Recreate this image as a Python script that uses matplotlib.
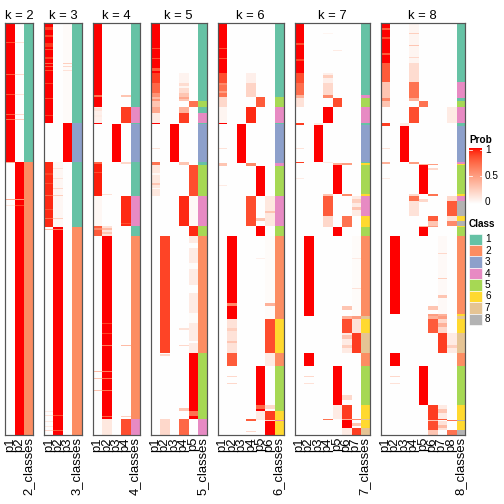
import numpy as np
import matplotlib
matplotlib.use("Agg")
import matplotlib.pyplot as plt
from matplotlib.patches import Rectangle

plt.rcParams['font.family'] = ['Liberation Sans', 'DejaVu Sans']

# ---------------- data ----------------
K_VALUES = [2, 3, 4, 5, 6, 7, 8]
CLASS_COLORS = ["#66C2A5", "#FC8D62", "#8DA0CB", "#E78AC3",
                "#A6D854", "#FFD92F", "#E5C494", "#B3B3B3"]
CLASS_LABELS = ["1", "2", "3", "4", "5", "6", "7", "8"]
PROB_TICKS = [0, 0.5, 1]
PROB_TICK_LABELS = ["0", "0.5", "1"]

# segments: (n_rows, class, membership of class, second class, its membership)
SEG_K2 = [(139, 1, 1.0, 2, 0.0), (273, 2, 1.0, 1, 0.0)]
SEG_K3 = [(100, 1, 1.0, 3, 0.02), (39, 3, 1.0, 1, 0.0), (65, 1, 0.95, 2, 0.04),
          (208, 2, 1.0, 1, 0.0)]
SEG_K4 = [(84, 1, 1.0, 4, 0.0), (16, 4, 0.9, 1, 0.08), (1, 1, 1.0, 4, 0.0),
          (38, 3, 1.0, 1, 0.0), (34, 1, 0.97, 4, 0.0), (30, 4, 0.95, 1, 0.04),
          (10, 1, 0.8, 2, 0.15), (183, 2, 1.0, 1, 0.0), (16, 4, 0.85, 2, 0.12)]
SEG_K5 = [(50, 1, 1.0, 4, 0.0), (10, 1, 0.9, 4, 0.06), (10, 1, 0.75, 4, 0.18),
          (8, 1, 0.55, 4, 0.3), (6, 5, 0.7, 1, 0.3), (6, 1, 0.45, 4, 0.4),
          (10, 4, 0.9, 1, 0.1), (1, 1, 1.0, 4, 0.0), (38, 3, 1.0, 1, 0.0),
          (3, 1, 0.7, 4, 0.3), (31, 5, 0.85, 1, 0.12), (30, 4, 0.95, 5, 0.03),
          (10, 5, 0.95, 4, 0.0), (117, 2, 0.88, 5, 0.1), (66, 5, 1.0, 2, 0.0),
          (16, 4, 0.75, 2, 0.2)]
SEG_K6 = [(50, 1, 1.0, 4, 0.0), (10, 1, 0.85, 4, 0.08), (14, 1, 0.7, 4, 0.22),
          (10, 5, 0.8, 1, 0.2), (16, 4, 0.95, 1, 0.05), (1, 1, 1.0, 4, 0.0),
          (39, 3, 1.0, 1, 0.0), (3, 4, 0.6, 1, 0.3), (30, 5, 1.0, 1, 0.0),
          (30, 4, 0.85, 6, 0.12), (10, 5, 1.0, 4, 0.0), (83, 2, 1.0, 6, 0.02),
          (34, 6, 0.85, 2, 0.15), (13, 2, 0.8, 6, 0.1), (45, 5, 1.0, 2, 0.0),
          (9, 6, 0.9, 5, 0.1), (1, 4, 0.8, 6, 0.2), (14, 6, 1.0, 5, 0.0)]
SEG_K7 = [(50, 1, 1.0, 4, 0.0), (10, 1, 0.85, 4, 0.08), (12, 1, 0.72, 4, 0.2),
          (3, 4, 0.6, 1, 0.4), (9, 5, 0.85, 1, 0.15), (16, 4, 1.0, 1, 0.0),
          (2, 1, 0.9, 3, 0.1), (37, 3, 1.0, 1, 0.0), (1, 1, 0.9, 4, 0.1),
          (2, 6, 0.5, 5, 0.4), (29, 5, 1.0, 1, 0.0), (2, 6, 0.6, 4, 0.3),
          (20, 4, 0.8, 7, 0.1), (11, 6, 0.7, 4, 0.2), (9, 5, 1.0, 4, 0.0),
          (80, 2, 1.0, 7, 0.02), (3, 7, 0.5, 6, 0.4), (14, 6, 0.85, 7, 0.15),
          (20, 7, 0.9, 6, 0.1), (13, 2, 1.0, 5, 0.0), (39, 5, 1.0, 2, 0.0),
          (14, 6, 0.9, 5, 0.1), (1, 7, 0.6, 6, 0.4), (8, 6, 1.0, 7, 0.0),
          (7, 7, 0.9, 6, 0.1)]
SEG_K8 = [(40, 1, 1.0, 4, 0.05), (19, 1, 0.8, 4, 0.18), (16, 4, 0.7, 1, 0.3),
          (3, 1, 0.6, 4, 0.4), (6, 5, 0.7, 1, 0.3), (16, 4, 0.85, 8, 0.1),
          (3, 1, 0.9, 3, 0.1), (36, 3, 1.0, 1, 0.0), (2, 4, 0.5, 1, 0.4),
          (1, 6, 0.5, 5, 0.4), (29, 5, 1.0, 1, 0.0), (2, 6, 0.7, 4, 0.2),
          (5, 4, 0.7, 8, 0.2), (15, 8, 0.8, 4, 0.15), (5, 6, 0.8, 8, 0.15),
          (5, 8, 0.6, 6, 0.3), (1, 6, 0.5, 5, 0.4), (9, 5, 1.0, 6, 0.0),
          (78, 2, 1.0, 7, 0.03), (2, 6, 0.5, 7, 0.4), (3, 7, 0.5, 6, 0.4),
          (14, 6, 0.8, 7, 0.2), (20, 7, 0.9, 8, 0.1), (13, 2, 1.0, 5, 0.0),
          (39, 5, 1.0, 2, 0.0), (15, 6, 0.9, 7, 0.1), (1, 8, 0.7, 6, 0.3),
          (9, 6, 0.85, 7, 0.15), (5, 8, 0.7, 6, 0.3)]

# streaks: (first row, n_rows, column p#, membership value)
STREAK_K2 = [(19, 1, 1, 0.85), (19, 1, 2, 0.15), (51, 1, 1, 0.8), (51, 1, 2, 0.2),
             (71, 1, 1, 0.85), (71, 1, 2, 0.15), (91, 1, 1, 0.8), (91, 1, 2, 0.2),
             (96, 1, 1, 0.75), (96, 1, 2, 0.25), (139, 1, 1, 0.4),
             (176, 1, 1, 0.45), (176, 1, 2, 0.55), (182, 1, 1, 0.12), (182, 1, 2, 0.88)]
STREAK_K3 = [(4, 3, 1, 0.9), (12, 2, 1, 0.88), (20, 4, 1, 0.92), (26, 1, 1, 0.85),
             (34, 2, 1, 0.9), (40, 1, 1, 0.75), (40, 1, 3, 0.25), (43, 1, 1, 0.8),
             (43, 1, 3, 0.2), (47, 1, 1, 0.85), (47, 1, 3, 0.15), (60, 1, 1, 0.9),
             (75, 1, 1, 0.88), (92, 1, 1, 0.9), (145, 1, 2, 0.15), (150, 2, 1, 0.88),
             (155, 1, 2, 0.15), (160, 1, 1, 0.85), (165, 1, 2, 0.2), (172, 1, 2, 0.25),
             (172, 1, 1, 0.75), (186, 1, 1, 0.85), (195, 1, 1, 0.75), (195, 1, 2, 0.25),
             (206, 1, 1, 0.35), (206, 1, 2, 0.65), (388, 1, 1, 0.1), (392, 1, 1, 0.15),
             (392, 1, 2, 0.85), (398, 1, 1, 0.12), (403, 1, 1, 0.1), (407, 1, 1, 0.2),
             (407, 1, 2, 0.8)]
STREAK_K4 = [(72, 2, 1, 0.7), (72, 2, 4, 0.3), (85, 3, 1, 0.15), (92, 2, 1, 0.1),
             (139, 2, 1, 0.75), (139, 2, 4, 0.2), (149, 1, 1, 0.85), (171, 1, 2, 0.15),
             (200, 1, 4, 0.85), (205, 2, 1, 0.6), (205, 2, 2, 0.35), (209, 2, 2, 0.3),
             (300, 1, 2, 0.88), (310, 1, 2, 0.88), (322, 1, 4, 0.35), (322, 1, 2, 0.65),
             (348, 1, 1, 0.35), (348, 1, 2, 0.65), (355, 1, 1, 0.3), (355, 1, 2, 0.7),
             (367, 1, 1, 0.3), (367, 1, 2, 0.7), (393, 1, 4, 0.25), (393, 1, 2, 0.75)]
STREAK_K5 = [(25, 1, 1, 0.85), (35, 1, 1, 0.85), (45, 3, 1, 0.8), (63, 2, 4, 0.05),
             (74, 2, 1, 0.35), (74, 2, 4, 0.45), (100, 1, 1, 1.0), (125, 1, 1, 0.15),
             (150, 2, 1, 0.03), (160, 2, 1, 0.3), (165, 1, 1, 0.02), (220, 5, 5, 0.0),
             (240, 6, 5, 0.02), (262, 8, 5, 0.0), (290, 10, 5, 0.02), (305, 2, 4, 0.15),
             (318, 2, 5, 0.0), (322, 1, 4, 0.2), (331, 2, 2, 0.2), (385, 3, 4, 0.3),
             (388, 5, 5, 0.7)]
STREAK_K6 = [(25, 1, 1, 0.85), (35, 1, 1, 0.85), (60, 2, 1, 0.6), (68, 2, 1, 0.5),
             (125, 1, 1, 0.15), (162, 1, 1, 0.1), (188, 2, 6, 0.3), (195, 3, 5, 0.3),
             (235, 1, 5, 0.08), (280, 3, 2, 0.6), (280, 3, 6, 0.4), (305, 3, 2, 0.25),
             (318, 2, 2, 0.3), (353, 1, 2, 0.2), (360, 1, 2, 0.2), (382, 4, 5, 0.75),
             (382, 4, 6, 0.2), (396, 1, 4, 0.8), (408, 1, 4, 0.2)]
STREAK_K7 = [(20, 2, 1, 0.85), (36, 2, 1, 0.88), (10, 1, 4, 0.05), (27, 1, 5, 0.1),
             (52, 3, 4, 0.25), (125, 1, 1, 0.15), (155, 1, 1, 0.1), (176, 4, 7, 0.25),
             (184, 3, 7, 0.3), (235, 1, 7, 0.1), (265, 1, 7, 0.15), (283, 4, 6, 0.3),
             (312, 4, 6, 0.3), (322, 3, 6, 0.25), (353, 1, 2, 0.2), (360, 1, 2, 0.15),
             (372, 5, 6, 0.2), (396, 1, 4, 0.7), (400, 3, 7, 0.3)]
STREAK_K8 = [(5, 2, 1, 0.8), (14, 2, 1, 0.85), (30, 2, 1, 0.8), (10, 1, 4, 0.25),
             (22, 1, 4, 0.3), (34, 1, 4, 0.2), (125, 1, 1, 0.15), (155, 1, 1, 0.1),
             (145, 2, 6, 0.2), (176, 3, 5, 0.2), (230, 1, 7, 0.2), (255, 1, 7, 0.25),
             (272, 3, 7, 0.3), (283, 4, 6, 0.3), (300, 4, 7, 0.4), (322, 3, 8, 0.25),
             (353, 1, 2, 0.2), (360, 1, 2, 0.15), (386, 4, 7, 0.3), (396, 1, 7, 0.8),
             (402, 3, 7, 0.35)]

SEGMENTS = {2: SEG_K2, 3: SEG_K3, 4: SEG_K4, 5: SEG_K5, 6: SEG_K6, 7: SEG_K7, 8: SEG_K8}
STREAKS = {2: STREAK_K2, 3: STREAK_K3, 4: STREAK_K4, 5: STREAK_K5, 6: STREAK_K6,
           7: STREAK_K7, 8: STREAK_K8}


# ---------------- colour helpers (white -> red in LAB, like colorRamp2) ----------------
def _srgb_to_lin(c):
    c = np.asarray(c, float)
    return np.where(c <= 0.04045, c / 12.92, ((c + 0.055) / 1.055) ** 2.4)


def _lin_to_srgb(c):
    c = np.clip(c, 0, 1)
    return np.where(c <= 0.0031308, 12.92 * c, 1.055 * c ** (1 / 2.4) - 0.055)


_M = np.array([[0.4124, 0.3576, 0.1805], [0.2126, 0.7152, 0.0722], [0.0193, 0.1192, 0.9505]])
_WP = np.array([0.95047, 1.0, 1.08883])


def rgb_to_lab(rgb):
    xyz = _M @ _srgb_to_lin(rgb) / _WP
    f = np.where(xyz > 0.008856, np.cbrt(xyz), 7.787 * xyz + 16 / 116)
    return np.array([116 * f[1] - 16, 500 * (f[0] - f[1]), 200 * (f[1] - f[2])])


def lab_to_rgb(lab):
    L, a, b = lab
    fy = (L + 16) / 116
    fx = fy + a / 500
    fz = fy - b / 200
    f = np.array([fx, fy, fz])
    xyz = np.where(f ** 3 > 0.008856, f ** 3, (f - 16 / 116) / 7.787) * _WP
    return _lin_to_srgb(np.linalg.inv(_M) @ xyz)


LAB_W = rgb_to_lab([1, 1, 1])
LAB_R = rgb_to_lab([1, 0, 0])


def prob_color(p):
    p = np.clip(np.asarray(p, float), 0, 1)
    lab = LAB_W[:, None] * (1 - p.ravel()) + LAB_R[:, None] * p.ravel()
    rgb = np.array([lab_to_rgb(lab[:, i]) for i in range(lab.shape[1])])
    return rgb.reshape(p.shape + (3,))


def hex_rgb(h):
    h = h.lstrip('#')
    return np.array([int(h[i:i + 2], 16) / 255 for i in (0, 2, 4)])


# ---------------- figure ----------------
W = H = 504
fig = plt.figure(figsize=(7, 7), dpi=72)
fig.patch.set_facecolor('white')

col_w = 9.38
gap = 11.0
x0 = 5.0
top_px, bot_px = 23.0, 435.0

x = x0
for k in K_VALUES:
    segs = SEGMENTS[k]
    n = sum(s[0] for s in segs)
    prob = np.zeros((n, k))
    cls = np.zeros(n, dtype=int)
    r = 0
    for (m, c, p, c2, p2) in segs:
        prob[r:r + m, c - 1] = p
        if c2 <= k and c2 != c:
            prob[r:r + m, c2 - 1] = p2
        cls[r:r + m] = c
        r += m
    for (r0, m, c, v) in STREAKS[k]:
        if c <= k:
            prob[r0:r0 + m, c - 1] = v
    img = np.ones((n, k + 1, 3))
    img[:, :k, :] = prob_color(prob)
    for i in range(n):
        img[i, k, :] = hex_rgb(CLASS_COLORS[cls[i] - 1])

    width = (k + 1) * col_w
    ax = fig.add_axes([x / W, 1 - bot_px / H, width / W, (bot_px - top_px) / H])
    ax.imshow(img, aspect='auto', interpolation='nearest',
              extent=[0, k + 1, n, 0])
    ax.set_xlim(0, k + 1)
    ax.set_ylim(n, 0)
    ax.set_xticks(np.arange(k + 1) + 0.5)
    ax.set_xticklabels([f"p{i + 1}" for i in range(k)] + [f"{k}_classes"],
                       rotation=90, fontsize=13)
    ax.tick_params(axis='x', length=0, pad=2)
    ax.set_yticks([])
    for sp in ax.spines.values():
        sp.set_color('#555555')
        sp.set_linewidth(1.2)
    ax.set_title(f"k = {k}", fontsize=13, pad=4)
    x += width + gap

# ---------------- legends ----------------
lax = fig.add_axes([0, 0, 1, 1])
lax.set_xlim(0, W)
lax.set_ylim(H, 0)
lax.axis('off')
lax.patch.set_alpha(0)

lx = 469
lax.text(lx, 140, "Prob", fontsize=10, fontweight='bold', va='center', ha='left')
cb_top, cb_bot = 148, 204
grad = np.linspace(1, 0, 100)[:, None]
lax.imshow(prob_color(grad), aspect='auto', extent=[lx, lx + 13, cb_bot, cb_top],
           interpolation='bilinear')
for t, lab in zip(PROB_TICKS, PROB_TICK_LABELS):
    yy = cb_bot - t * (cb_bot - cb_top - 4) - 2
    lax.text(lx + 16, yy, lab, fontsize=10, va='center', ha='left')
    if t > 0:
        lax.plot([lx, lx + 2.5], [yy, yy], color='white', lw=0.8)
        lax.plot([lx + 10.5, lx + 13], [yy, yy], color='white', lw=0.8)

lax.text(lx, 224, "Class", fontsize=10, fontweight='bold', va='center', ha='left')
step = 11.43
y_start = 233.5
for i, (col, lab) in enumerate(zip(CLASS_COLORS, CLASS_LABELS)):
    yy = y_start + i * step
    lax.add_patch(Rectangle((lx, yy), 13, step, facecolor=col, edgecolor='white', lw=0.6))
    lax.text(lx + 16, yy + step / 2, lab, fontsize=10, va='center', ha='left')
lax.set_xlim(0, W)
lax.set_ylim(H, 0)

fig.savefig("out.png", dpi=72)
